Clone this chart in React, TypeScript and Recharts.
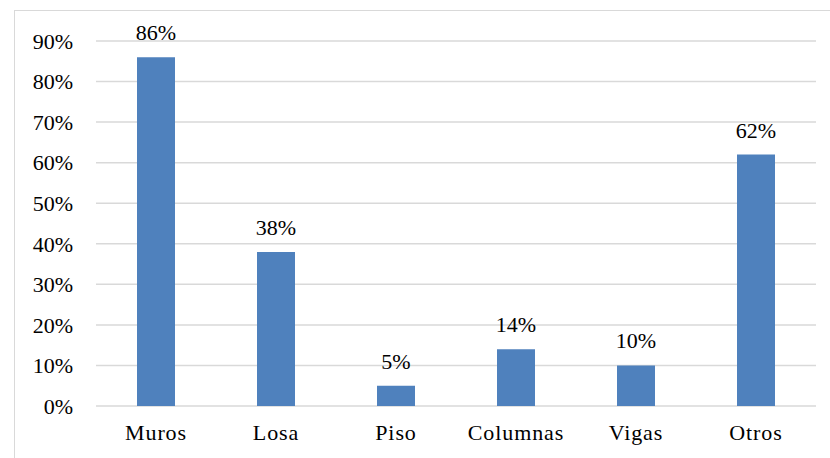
import { BarChart, Bar, XAxis, YAxis, CartesianGrid, LabelList } from 'recharts';

const categories = ['Muros', 'Losa', 'Piso', 'Columnas', 'Vigas', 'Otros'];
const percentages = [86, 38, 5, 14, 10, 62];
const yTicks = [0, 10, 20, 30, 40, 50, 60, 70, 80, 90];

const data = categories.map((name, i) => ({ name, value: percentages[i] }));

const FONT = 'Liberation Serif';
const pct = (v: number | string) => `${v}%`;
const textStyle = { fill: '#000', fontSize: 22, fontFamily: FONT };

export default function App() {
  return (
    <div
      style={{
        position: 'absolute',
        left: 0,
        top: 0,
        width: 830,
        height: 458,
        background: '#fff',
        overflow: 'hidden',
        fontFamily: FONT,
      }}
    >
      {/* chart frame, only top and left edges fall inside the view */}
      <div
        style={{
          position: 'absolute',
          left: 14,
          top: 10,
          width: 840,
          height: 470,
          borderLeft: '1.5px solid #d9d9d9',
          borderTop: '1.5px solid #d9d9d9',
        }}
      />
      <div style={{ position: 'absolute', left: 0, top: 0 }}>
        <BarChart
          width={830}
          height={458}
          data={data}
          margin={{ top: 41, right: 14, left: 0, bottom: 0 }}
        >
          <CartesianGrid vertical={false} stroke="#d9d9d9" strokeWidth={1.5} />
          <XAxis
            dataKey="name"
            axisLine={false}
            tickLine={false}
            interval={0}
            height={52}
            tickMargin={12}
            tick={{ ...textStyle, letterSpacing: 0.9 }}
          />
          <YAxis
            width={96}
            domain={[0, 90]}
            ticks={yTicks}
            axisLine={false}
            tickLine={false}
            tickMargin={17}
            tickFormatter={pct}
            tick={textStyle}
          />
          <Bar dataKey="value" fill="#4f81bd" barSize={38} isAnimationActive={false}>
            <LabelList
              dataKey="value"
              position="top"
              offset={17}
              formatter={pct}
              fill="#000"
              fontSize={22}
              fontFamily={FONT}
            />
          </Bar>
        </BarChart>
      </div>
    </div>
  );
}
